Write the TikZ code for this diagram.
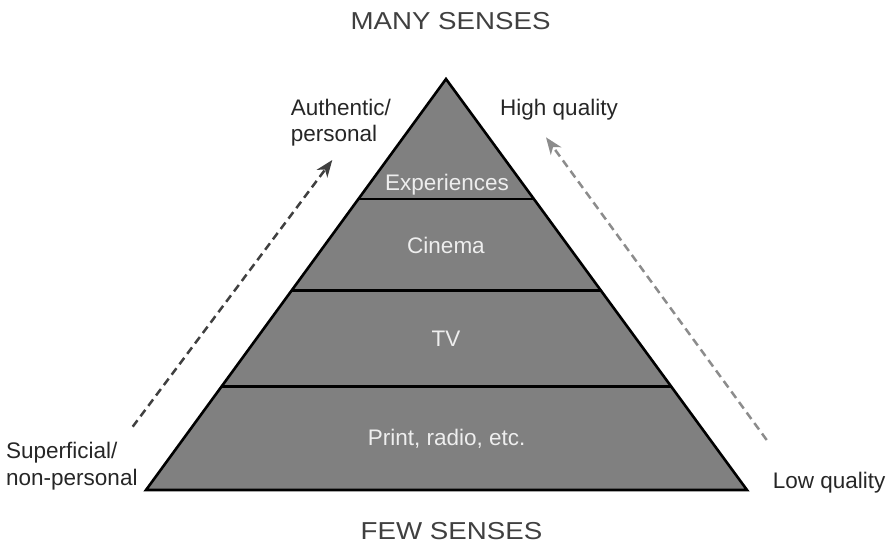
\documentclass[tikz,border=0pt]{standalone}
\usepackage{fontspec}
\setmainfont{Liberation Sans}
\usetikzlibrary{arrows.meta,calc}
\definecolor{pyr}{HTML}{808080}
\definecolor{lbl}{HTML}{262626}
\definecolor{hdr}{HTML}{404040}
\definecolor{inn}{HTML}{EEEEEE}
\definecolor{arrA}{HTML}{404040}
\definecolor{arrB}{HTML}{8C8C8C}
\tikzset{
  lab/.style={font=\fontsize{22.5}{26.7}\selectfont, text=lbl, inner sep=0pt},
  hdrtext/.style={font=\fontsize{24.5}{29}\selectfont, text=hdr, inner sep=0pt, anchor=base},
  inner/.style={font=\fontsize{22.5}{27}\selectfont, text=inn, inner sep=0pt, anchor=base},
  layerline/.style={line width=2.6pt, black},
  darr/.style={dash pattern=on 8pt off 5pt, line width=2.5pt, -{Stealth[length=17pt,width=13pt,inset=5pt]}},
}
\begin{document}
\begin{tikzpicture}[x=1pt,y=-1pt]
\useasboundingbox (0,0) rectangle (896,550);
\coordinate (apex) at (446,79);
\coordinate (bl) at (146,490);
\coordinate (br) at (747,490);
\filldraw[fill=pyr, draw=black, line width=2.6pt, line join=miter] (apex) -- (bl) -- (br) -- cycle;
\foreach \y/\n in {199/a,290.7/b,386.5/c}{
  \pgfmathsetmacro{\t}{(\y-79)/411}
  \coordinate (l\n) at ($(apex)!\t!(bl)$);
  \coordinate (r\n) at ($(apex)!\t!(br)$);
  \draw[layerline] (l\n) -- (r\n);
}
\node[hdrtext] (many) at (450.5,29.3) {\scalebox{1.13}[1]{MANY SENSES}};
\node[hdrtext] (few) at (451.5,539) {\scalebox{1.13}[1]{FEW SENSES}};
\node[inner] (exp) at (447,190.7) {Experiences};
\node[inner] (cin) at (446,253) {Cinema};
\node[inner] (tv) at (446,346) {TV};
\node[inner] (prt) at (446.7,445.7) {Print, radio, etc.};
\node[lab, anchor=base west] (auth) at (290.7,115) {Authentic/};
\node[lab, anchor=base west] (auth2) at (290.7,141.7) {personal};
\node[lab, anchor=base east] (hq) at (618,115) {High quality};
\node[lab, anchor=base west] (sup) at (6,458.3) {Superficial/};
\node[lab, anchor=base west] (sup2) at (6,485) {non-personal};
\node[lab, anchor=base west] (lq) at (772.7,488.3) {Low quality};
\coordinate (a1) at (132.7,426.7);
\coordinate (a2) at (332.3,160);
\coordinate (b1) at (766.7,440);
\coordinate (b2) at (546,137.3);
\draw[darr, arrA] (a1) -- (a2);
\draw[darr, arrB] (b1) -- (b2);
\end{tikzpicture}
\end{document}
